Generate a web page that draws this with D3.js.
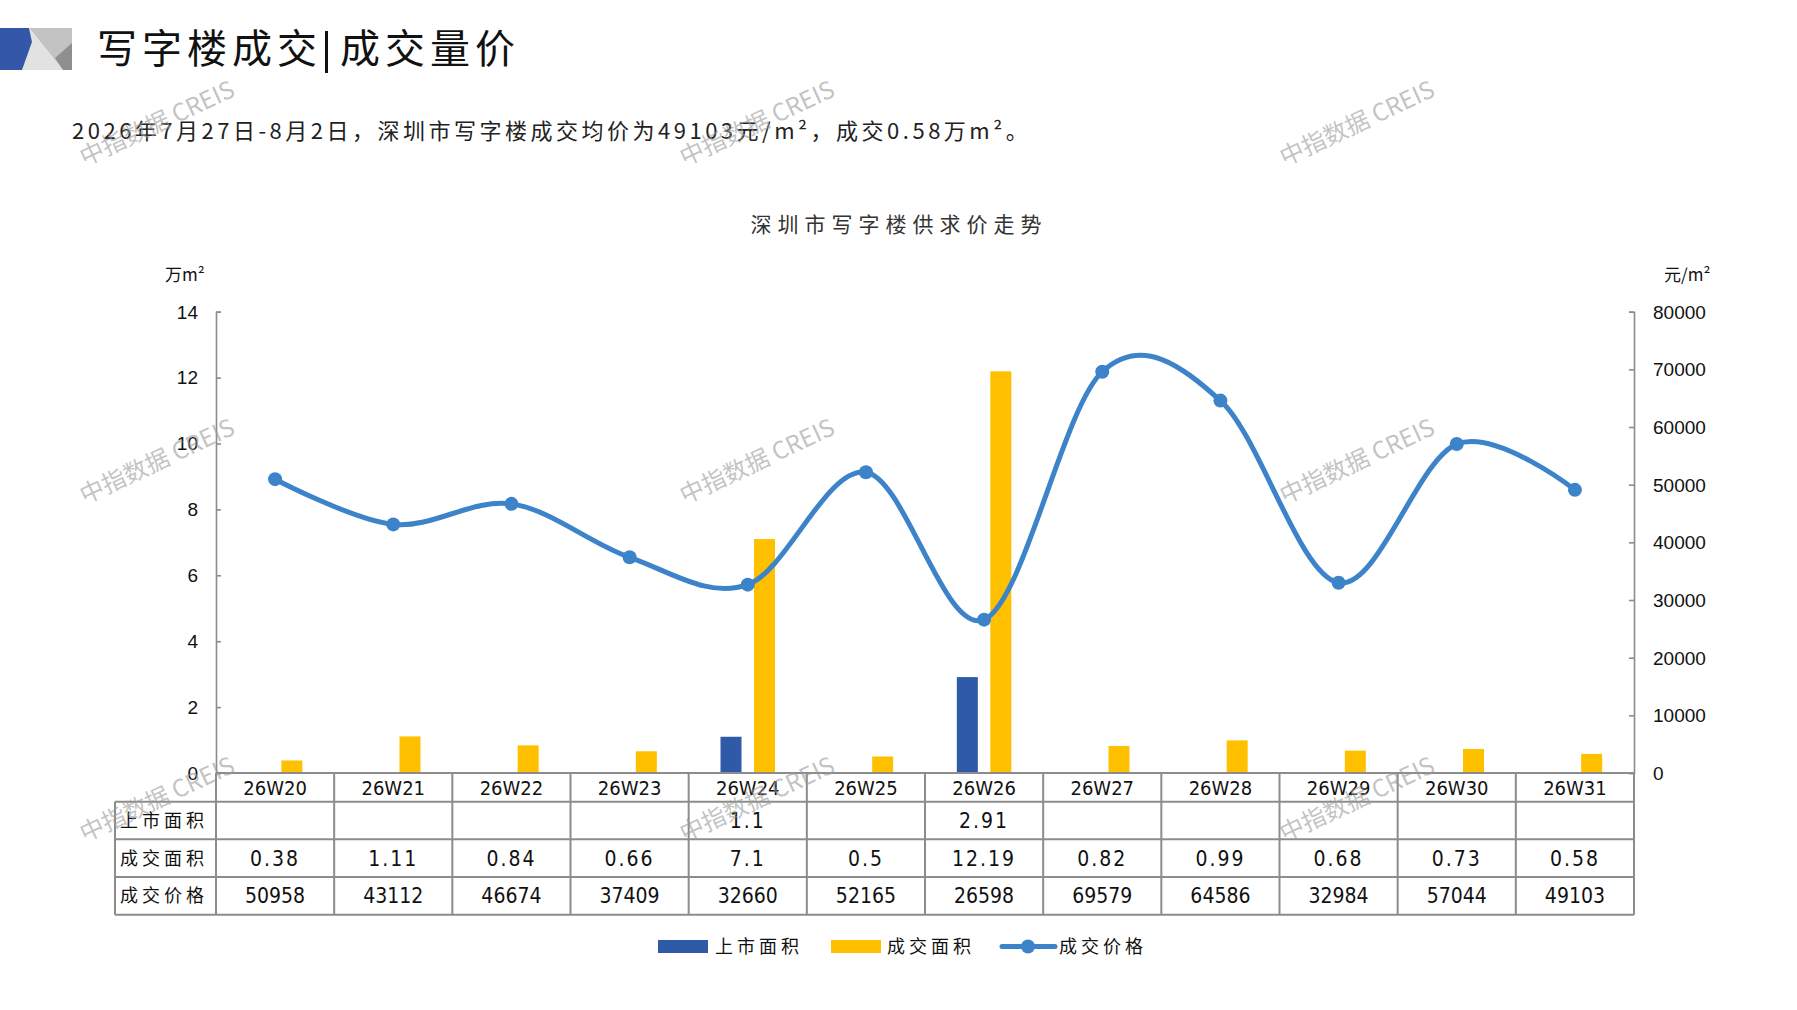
<!doctype html>
<html>
<head>
<meta charset="utf-8" />
<title>深圳市写字楼供求价走势</title>
<script src="https://cdn.jsdelivr.net/npm/d3@7"></script>
<style>
  html,body{margin:0;background:#fff}
  svg{display:block}
  .cjk{font-family:"Noto Sans CJK SC","Noto Sans",sans-serif}
  .num{font-family:"Liberation Sans",Arial,sans-serif}
  .narrow{font-family:"Liberation Sans Narrow","DejaVu Sans Condensed","Liberation Sans",sans-serif}
</style>
</head>
<body>
<svg id="chart" width="1797" height="1010"></svg>
<script>
// ---- data ----
const weeks   = ['26W20','26W21','26W22','26W23','26W24','26W25','26W26','26W27','26W28','26W29','26W30','26W31'];
const supply  = [null,null,null,null,1.1,null,2.91,null,null,null,null,null];   // 上市面积 万m²
const deal    = [0.38,1.11,0.84,0.66,7.1,0.5,12.19,0.82,0.99,0.68,0.73,0.58];    // 成交面积 万m²
const price   = [50958,43112,46674,37409,32660,52165,26598,69579,64586,32984,57044,49103]; // 成交价格 元/m²
const leftTicks  = [0,2,4,6,8,10,12,14];
const rightTicks = [0,10000,20000,30000,40000,50000,60000,70000,80000];
const seriesNames = ['上市面积','成交面积','成交价格'];

const C_BLUE = '#2f5aa8', C_YELLOW = '#ffc000', C_LINE = '#3d83c9', C_GRID = '#8c8c8c';

const svg = d3.select('#chart');

// ---- header ----
const logo = svg.append('g');
logo.append('polygon').attr('points','29,28 72,28 72,70 63,70').attr('fill','#c3c3c3');
logo.append('polygon').attr('points','29,28 63,70 22,70 32,42').attr('fill','#e2e2e2');
logo.append('polygon').attr('points','55,58 72,43 72,70 63,70').attr('fill','#8f8f8f');
logo.append('polygon').attr('points','0,28 29,28 32,42 22,70 0,70').attr('fill','#3557a8');

svg.append('text').attr('class','cjk').attr('x',97).attr('y',63)
  .attr('font-size',40).attr('letter-spacing',5).attr('fill','#111').text('写字楼成交');
svg.append('rect').attr('x',325).attr('y',31).attr('width',3).attr('height',42).attr('fill','#111');
svg.append('text').attr('class','cjk').attr('x',340).attr('y',63)
  .attr('font-size',40).attr('letter-spacing',5).attr('fill','#111').text('成交量价');

svg.append('text').attr('class','cjk').attr('x',72).attr('y',139)
  .attr('font-size',22).attr('letter-spacing',3.5).attr('fill','#222')
  .text('2026年7月27日-8月2日，深圳市写字楼成交均价为49103元/m²，成交0.58万m²。');

svg.append('text').attr('class','cjk').attr('x',899).attr('y',232)
  .attr('text-anchor','middle').attr('font-size',21).attr('letter-spacing',6).attr('fill','#333')
  .text('深圳市写字楼供求价走势');

// ---- scales ----
const x0 = 216, x1 = 1634, yTop = 311.7, yBase = 773;
const x = d3.scaleBand().domain(weeks).range([x0, x1]);
const xs = d3.scaleBand().domain(['supply','deal']).range([-27.25, 27.25]).paddingInner(0.373);
const yL = d3.scaleLinear().domain([0,14]).range([yBase, yTop]);
const yR = d3.scaleLinear().domain([0,80000]).range([yBase, yTop]);
const cx = d => x(d) + x.bandwidth()/2;

// ---- axes ----
const axL = svg.append('g').attr('transform',`translate(${x0},0)`)
  .call(d3.axisRight(yL).tickValues(leftTicks).tickSize(5).tickFormat(''));
const axR = svg.append('g').attr('transform',`translate(${x1},0)`)
  .call(d3.axisLeft(yR).tickValues(rightTicks).tickSize(5).tickFormat(''));
[axL, axR].forEach(a => {
  a.select('.domain').attr('stroke',C_GRID).attr('stroke-width',1.6);
  a.selectAll('.tick line').attr('stroke',C_GRID).attr('stroke-width',1.6);
});
svg.append('g').selectAll('text').data(leftTicks).join('text')
  .attr('class','num').attr('x',198).attr('y',d=>yL(d)).attr('dy','0.36em')
  .attr('text-anchor','end').attr('font-size',19).attr('fill','#111').text(d=>d);
svg.append('g').selectAll('text').data(rightTicks).join('text')
  .attr('class','num').attr('x',1653).attr('y',d=>yR(d)).attr('dy','0.36em')
  .attr('font-size',19).attr('fill','#111').text(d=>d);

svg.append('text').attr('class','cjk').attr('x',165).attr('y',281).attr('font-size',17).attr('fill','#111').text('万m²');
svg.append('text').attr('class','cjk').attr('x',1664).attr('y',281).attr('font-size',17).attr('fill','#111').text('元/m²');

// ---- bars ----
svg.append('g').selectAll('rect').data(weeks.map((w,i)=>({w,v:supply[i]})).filter(d=>d.v!=null)).join('rect')
  .attr('x',d=>cx(d.w)+xs('supply')).attr('width',xs.bandwidth())
  .attr('y',d=>yL(d.v)).attr('height',d=>yBase-yL(d.v)).attr('fill',C_BLUE);
svg.append('g').selectAll('rect').data(weeks.map((w,i)=>({w,v:deal[i]}))).join('rect')
  .attr('x',d=>cx(d.w)+xs('deal')).attr('width',xs.bandwidth())
  .attr('y',d=>yL(d.v)).attr('height',d=>yBase-yL(d.v)).attr('fill',C_YELLOW);

// ---- price line (smoothed) ----
const pts = weeks.map((w,i)=>[cx(w), yR(price[i])]);
svg.append('path').attr('d', d3.line().curve(d3.curveCardinal.tension(0))(pts))
  .attr('fill','none').attr('stroke',C_LINE).attr('stroke-width',5).attr('stroke-linecap','round');
svg.append('g').selectAll('circle').data(pts).join('circle')
  .attr('cx',d=>d[0]).attr('cy',d=>d[1]).attr('r',7).attr('fill',C_LINE);

// ---- data table ----
const rowsY = [773, 801.7, 839.3, 877, 914.7];
const tLeft = 115;
const tg = svg.append('g').attr('stroke',C_GRID).attr('stroke-width',2);
rowsY.forEach((y,i)=>{
  tg.append('line').attr('x1', i===0 ? x0 : tLeft).attr('x2',x1).attr('y1',y).attr('y2',y);
});
tg.append('line').attr('x1',tLeft).attr('x2',tLeft).attr('y1',rowsY[1]).attr('y2',rowsY[4]);
[x0, ...weeks.map(w=>x(w)+x.bandwidth())].forEach(xx=>{
  tg.append('line').attr('x1',xx).attr('x2',xx).attr('y1',rowsY[0]).attr('y2',rowsY[4]);
});
const mid = i => (rowsY[i]+rowsY[i+1])/2;
svg.append('g').selectAll('text').data(weeks).join('text')
  .attr('class','narrow').attr('x',d=>cx(d)).attr('y',mid(0)).attr('dy','0.36em')
  .attr('text-anchor','middle').attr('font-size',20).attr('fill','#111').text(d=>d);
const rowVals = [supply, deal, price];
rowVals.forEach((vals,r)=>{
  svg.append('text').attr('class','cjk').attr('x',tLeft+5).attr('y',mid(r+1)).attr('dy','0.36em')
    .attr('font-size',18).attr('letter-spacing',4).attr('fill','#111').text(seriesNames[r]);
  svg.append('g').selectAll('text').data(weeks.map((w,i)=>({w,v:vals[i]})).filter(d=>d.v!=null)).join('text')
    .attr('class','narrow').attr('x',d=>cx(d.w)).attr('y',mid(r+1)).attr('dy','0.36em')
    .attr('text-anchor','middle').attr('font-size',21).attr('letter-spacing', r<2 ? 2 : 0)
    .attr('fill','#111').text(d=>d.v);
});

// ---- legend ----
const lg = svg.append('g');
lg.append('rect').attr('x',658).attr('y',940).attr('width',50).attr('height',13).attr('fill',C_BLUE);
lg.append('rect').attr('x',831).attr('y',940).attr('width',50).attr('height',13).attr('fill',C_YELLOW);
lg.append('line').attr('x1',1002).attr('x2',1055).attr('y1',946.5).attr('y2',946.5)
  .attr('stroke',C_LINE).attr('stroke-width',5).attr('stroke-linecap','round');
lg.append('circle').attr('cx',1028).attr('cy',946.5).attr('r',7).attr('fill',C_LINE);
[715, 887, 1059].forEach((lx,i)=>{
  lg.append('text').attr('class','cjk').attr('x',lx).attr('y',947).attr('dy','0.36em')
    .attr('font-size',18).attr('letter-spacing',4).attr('fill','#111').text(seriesNames[i]);
});

// ---- watermarks ----
const wmX = [157, 757, 1357], wmY = [123, 461, 799];
const wg = svg.append('g').attr('pointer-events','none');
wmY.forEach(wy => wmX.forEach(wx => {
  wg.append('text').attr('class','cjk')
    .attr('transform',`translate(${wx},${wy}) rotate(-25)`)
    .attr('text-anchor','middle').attr('dy','0.36em')
    .attr('font-size',24).attr('fill','#9a9a9a').attr('fill-opacity',0.6)
    .text('中指数据 CREIS');
}));
</script>
</body>
</html>
